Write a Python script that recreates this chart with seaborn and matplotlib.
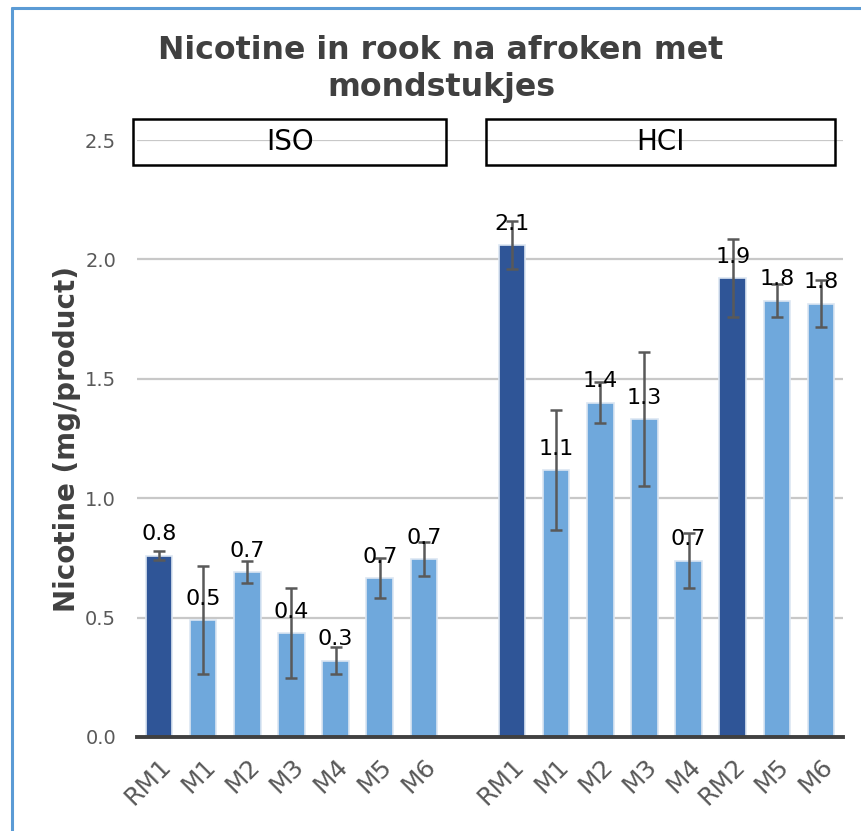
import matplotlib
matplotlib.use("Agg")
import matplotlib.pyplot as plt
import matplotlib.transforms as mtransforms
import seaborn as sns
import pandas as pd
from matplotlib.patches import Rectangle
from matplotlib.lines import Line2D

# ---- data ----
groups = ["ISO", "HCI"]
iso_products = ["RM1", "M1", "M2", "M3", "M4", "M5", "M6"]
iso_values = [0.76, 0.49, 0.69, 0.435, 0.32, 0.665, 0.745]
iso_errors = [0.017, 0.225, 0.046, 0.19, 0.058, 0.083, 0.072]
iso_labels = ["0.8", "0.5", "0.7", "0.4", "0.3", "0.7", "0.7"]

hci_products = ["RM1", "M1", "M2", "M3", "M4", "RM2", "M5", "M6"]
hci_values = [2.06, 1.118, 1.40, 1.332, 0.738, 1.922, 1.827, 1.815]
hci_errors = [0.10, 0.252, 0.085, 0.282, 0.116, 0.165, 0.07, 0.10]
hci_labels = ["2.1", "1.1", "1.4", "1.3", "0.7", "1.9", "1.8", "1.8"]

y_ticks = [0.0, 0.5, 1.0, 1.5, 2.0, 2.5]
title = "Nicotine in rook na afroken met\nmondstukjes"
y_label = "Nicotine (mg/product)"

# ---- table ----
rows = []
for p, v, e, l in zip(iso_products, iso_values, iso_errors, iso_labels):
    rows.append(dict(key="ISO " + p, product=p, value=v, err=e, label=l,
                     kind="ref" if p.startswith("RM") else "mod"))
for p, v, e, l in zip(hci_products, hci_values, hci_errors, hci_labels):
    rows.append(dict(key="HCI " + p, product=p, value=v, err=e, label=l,
                     kind="ref" if p.startswith("RM") else "mod"))
df = pd.DataFrame(rows)
order = ["ISO " + p for p in iso_products] + ["_gap"] + ["HCI " + p for p in hci_products]
tick_text = iso_products + [""] + hci_products

dark = "#2F5597"
light = "#6FA8DC"
grey_txt = "#595959"

sns.set_theme(style="white")
plt.rcParams["font.family"] = ["DejaVu Sans"]

fig = plt.figure(figsize=(8.61, 8.31), dpi=100)
ax = fig.add_axes([137 / 861, 1 - 737 / 831, (843 - 137) / 861, (737 - 140) / 831])

sns.barplot(data=df, x="key", y="value", hue="kind", order=order,
            palette={"ref": dark, "mod": light}, dodge=False, width=0.6,
            saturation=1, edgecolor="#DCE6F2", linewidth=1.2, legend=False,
            ax=ax, zorder=2)

pos = {k: i for i, k in enumerate(order)}
xs = [pos[k] for k in df["key"]]
ax.errorbar(xs, df["value"], yerr=df["err"], fmt="none", ecolor="#595959",
            elinewidth=1.8, capsize=4, capthick=1.8, zorder=4)
for x, v, l in zip(xs, df["value"], df["label"]):
    ax.annotate(l, (x, v), xytext=(0, 11), textcoords="offset points",
                ha="center", va="baseline", fontsize=16, color="black", zorder=5)

ax.set_xlim(-0.5, len(order) - 0.5)
ax.set_ylim(0, 2.5)
ax.set_yticks(y_ticks)
ax.set_yticklabels([f"{t:.1f}" for t in y_ticks], fontsize=14, color=grey_txt)
ax.set_xticks(range(len(order)))
ax.set_xticklabels(tick_text, rotation=45, ha="right", rotation_mode="anchor",
                   fontsize=18, color=grey_txt)
shift = mtransforms.ScaledTranslation(-6 / 100, 0, fig.dpi_scale_trans)
for lab in ax.get_xticklabels():
    lab.set_transform(lab.get_transform() + shift)
ax.tick_params(axis="x", length=0, pad=12)
ax.tick_params(axis="y", length=0, pad=15)
ax.set_xlabel("")
ax.set_ylabel(y_label, fontsize=20, fontweight="bold", color="#404040", labelpad=3)
ax.yaxis.grid(True, color="#C8C8C8", linewidth=1.6, zorder=0)
ax.set_axisbelow(True)
for s in ["top", "right", "left"]:
    ax.spines[s].set_visible(False)
ax.spines["bottom"].set_color("#404040")
ax.spines["bottom"].set_linewidth(2.8)
ax.spines["bottom"].set_zorder(6)

# group strip boxes
boxes = [(-0.59, 6.51, "ISO"), (7.42, 15.31, "HCI")]
for x0, x1, name in boxes:
    ax.add_patch(Rectangle((x0, 2.395), x1 - x0, 0.193, fill=False,
                           edgecolor="black", linewidth=1.8, clip_on=False, zorder=7))
    ax.text((x0 + x1) / 2, 2.49, name, ha="center", va="center",
            fontsize=20, color="black", clip_on=False, zorder=8)

fig.text(441 / 861, 1 - 69 / 831, title, ha="center", va="center",
         fontsize=22.8, fontweight="bold", color="#404040", linespacing=1.25)

# outer frame (left and top edges)
fig.add_artist(Line2D([12 / 861, 12 / 861], [0, 1 - 8 / 831], color="#5B9BD5",
                      linewidth=2.2, transform=fig.transFigure))
fig.add_artist(Line2D([12 / 861, 1], [1 - 8 / 831, 1 - 8 / 831], color="#5B9BD5",
                      linewidth=2.2, transform=fig.transFigure))

fig.savefig("out.png", dpi=100)
